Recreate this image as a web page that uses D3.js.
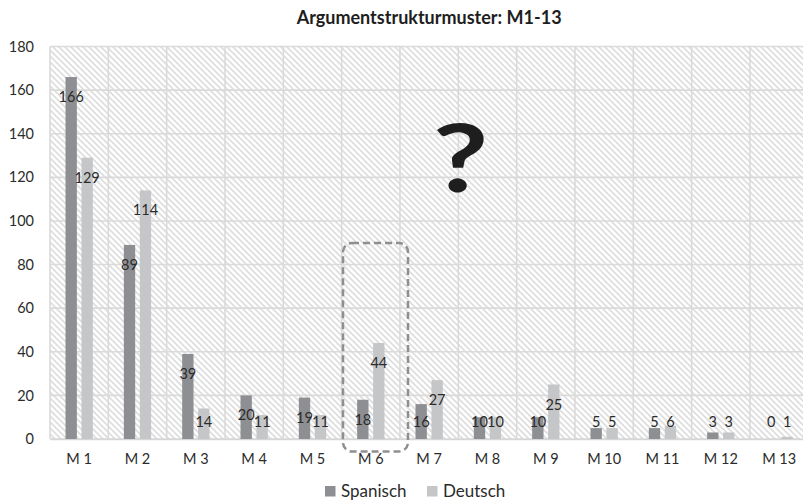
<!DOCTYPE html>
<html><head><meta charset="utf-8">
<script src="https://cdn.jsdelivr.net/npm/d3@7"></script>
<style>
html,body{margin:0;padding:0;background:#fff;}
svg{display:block;}
text{font-family:Lato,"Open Sans",sans-serif;}
</style></head>
<body><svg id="c" width="803" height="500"></svg>
<script>
const categories = ["M 1","M 2","M 3","M 4","M 5","M 6","M 7","M 8","M 9","M 10","M 11","M 12","M 13"];
const spanisch = [166,89,39,20,19,18,16,10,10,5,5,3,0];
const deutsch  = [129,114,14,11,11,44,27,10,25,5,6,3,1];
const seriesNames = ["Spanisch","Deutsch"];
const seriesColors = ["#8e8f93","#c5c6c8"];
const yTicks = [0,20,40,60,80,100,120,140,160,180];
const title = "Argumentstrukturmuster: M1-13";

const svg = d3.select("#c");
const L = 50, R = 808.3, T = 46.5, B = 439;
const x = d3.scaleBand().domain(categories).range([L, R]).padding(0);
const y = d3.scaleLinear().domain([0,180]).range([B, T]);
const xs = d3.scaleBand().domain(seriesNames).range([-13.65, 13.65]).paddingInner(0.29).paddingOuter(0);
const txt = "#2b2b2b";

const defs = svg.append("defs");
const pat = defs.append("pattern").attr("id","hatch").attr("patternUnits","userSpaceOnUse")
  .attr("width",6).attr("height",6);
pat.append("rect").attr("width",6).attr("height",6).attr("fill","#fff");
pat.append("path").attr("d","M-1,-1L7,7M-1,5L1,7M5,-1L7,1")
  .attr("stroke","#dedede").attr("stroke-width",1.7);

svg.append("rect").attr("x",L).attr("y",T).attr("width",R-L).attr("height",B-T).attr("fill","url(#hatch)");

// gridlines
svg.append("g").selectAll("line").data(yTicks).join("line")
  .attr("x1",L).attr("x2",R).attr("y1",d=>y(d)).attr("y2",d=>y(d))
  .attr("stroke","#dadada").attr("stroke-width",1.6);
const bounds = categories.map(c=>x(c)).concat([R]);
svg.append("g").selectAll("line").data(bounds).join("line")
  .attr("x1",d=>d).attr("x2",d=>d).attr("y1",T).attr("y2",B)
  .attr("stroke","#dadada").attr("stroke-width",1.6);

// y axis labels
const ya = svg.append("g").attr("transform",`translate(${L},0)`)
  .call(d3.axisLeft(y).tickValues(yTicks).tickSize(0).tickPadding(16));
ya.select(".domain").remove();
ya.selectAll("text").attr("font-family","Lato, 'Open Sans', sans-serif").attr("font-size",14.5).attr("fill",txt);

// x axis
const xa = svg.append("g").attr("transform",`translate(0,${B})`)
  .call(d3.axisBottom(x).tickSize(0).tickPadding(15));
xa.select(".domain").attr("stroke","#d6d6d6").attr("stroke-width",1.6);
xa.selectAll("text").attr("font-family","Lato, 'Open Sans', sans-serif").attr("font-size",14.5).attr("fill",txt);

const data = [spanisch, deutsch];
data.forEach((vals, si) => {
  const g = svg.append("g");
  g.selectAll("rect").data(vals).join("rect")
    .attr("x",(d,i)=>x(categories[i]) + x.bandwidth()/2 + xs(seriesNames[si]))
    .attr("width",xs.bandwidth())
    .attr("y",d=>y(d)).attr("height",d=>B - y(d))
    .attr("fill",seriesColors[si]);
});
data.forEach((vals, si) => {
  svg.append("g").selectAll("text").data(vals).join("text")
    .attr("x",(d,i)=>x(categories[i]) + x.bandwidth()/2 + xs(seriesNames[si]) + xs.bandwidth()/2)
    .attr("y",d=>Math.min(y(d)+20, 422))
    .attr("dy","0.35em")
    .attr("text-anchor","middle")
    .attr("font-size",14.5).attr("fill",txt)
    .text(d=>d);
});

// title
svg.append("text").attr("x",(L+R)/2).attr("y",24).attr("text-anchor","middle")
  .attr("font-weight","bold").attr("font-size",18).attr("fill","#1e1e1e").text(title);

// question mark
svg.append("g").attr("transform","translate(460.5,192) scale(1.3,1)")
  .append("text").attr("x",0).attr("y",0).attr("text-anchor","middle")
  .attr("font-family","'Liberation Sans', Arial, sans-serif")
  .attr("font-weight","bold").attr("font-size",93).attr("fill","#1e1e1e").text("?");

// dashed highlight box
svg.append("rect").attr("x",343).attr("y",243).attr("width",65).attr("height",208.5)
  .attr("rx",9).attr("fill","none").attr("stroke","#8f8f8f").attr("stroke-width",2.5)
  .attr("stroke-dasharray","7,4");

// legend
const lg = svg.append("g");
const legX = [325, 427];
seriesNames.forEach((n,i)=>{
  lg.append("rect").attr("x",legX[i]).attr("y",486).attr("width",10.5).attr("height",10.5).attr("fill",seriesColors[i]);
  lg.append("text").attr("x",legX[i]+16).attr("y",491.5).attr("dy","0.35em")
    .attr("font-size",17).attr("fill",txt).text(n);
});
</script></body></html>
